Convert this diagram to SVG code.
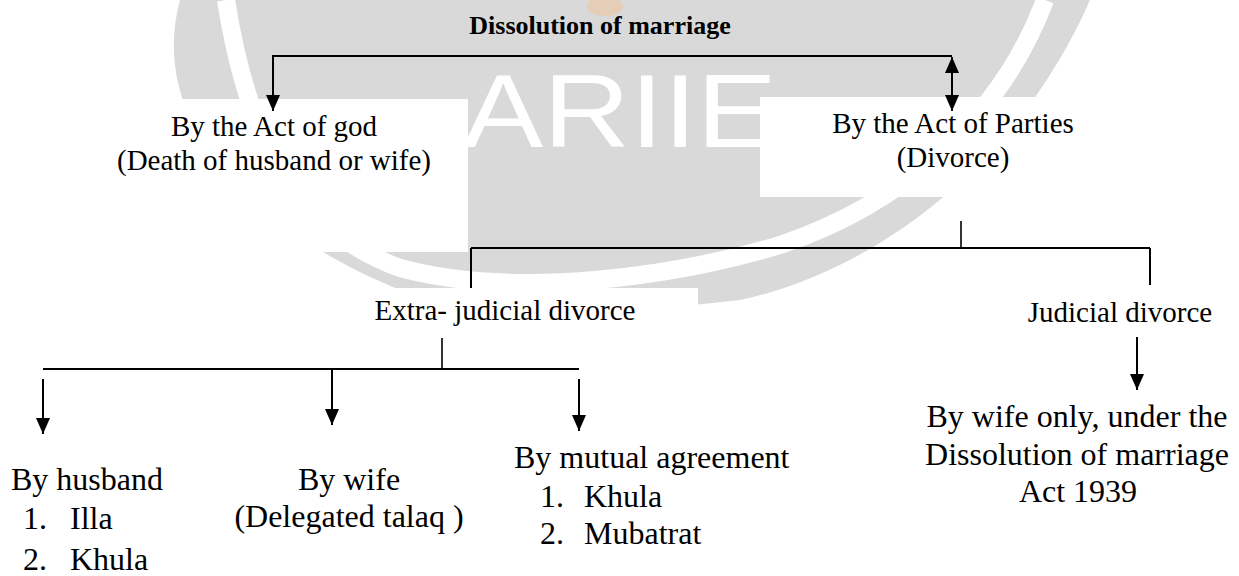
<svg xmlns="http://www.w3.org/2000/svg" width="1239" height="576" viewBox="0 0 1239 576">
<style>
.t{font-family:"Liberation Serif","Times New Roman",serif;fill:#000}
.s29{font-size:29px}
.s32{font-size:32px}
.title{font-size:26px;font-weight:bold}
.m{text-anchor:middle}
.ln{stroke:#000;stroke-width:2;fill:none}
.thin{stroke:#000;stroke-width:1.6;fill:none}
.box{fill:#fff}
</style>
<defs>
<marker id="ah" viewBox="0 0 10 10" refX="10" refY="5" markerWidth="16" markerHeight="14" markerUnits="userSpaceOnUse" orient="auto-start-reverse" preserveAspectRatio="none"><path d="M0,0 L10,5 L0,10 z" fill="#000"/></marker>
</defs>
<rect width="1239" height="576" fill="#fff"/>
<g id="watermark">
<path d="M180,0 C150,110 230,220 400,290 C500,318 640,312 740,300 C880,270 1020,160 1090,0 Z" fill="#d9d9d9"/>
<path d="M226,0 C248,140 295,230 400,268 C520,300 680,275 780,245 C900,205 1000,120 1045,0" fill="none" stroke="#fff" stroke-width="18"/>
<ellipse cx="605" cy="6" rx="18" ry="10" fill="#e8c9a8" opacity="0.7"/>
<text x="463" y="147" font-family="Liberation Sans, Arial, sans-serif" font-size="104" fill="#fff" textLength="314" lengthAdjust="spacingAndGlyphs">ARIIE</text>
</g>
<g id="boxes">
<rect class="box" x="100" y="99" width="368" height="153"/>
<rect class="box" x="760" y="97" width="340" height="100"/>
<rect class="box" x="330" y="288" width="368" height="60"/>
</g>
<g id="connectors">
<path class="ln" d="M952,56 H273 V111" marker-end="url(#ah)"/>
<path class="ln" d="M952,57 V111" marker-start="url(#ah)" marker-end="url(#ah)"/>
<path class="thin" d="M961,221 V248"/>
<path class="ln" d="M471,248 H1150"/>
<path class="ln" d="M471,248 V288"/>
<path class="ln" d="M1150,248 V285"/>
<path class="thin" d="M442,338 V369"/>
<path class="ln" d="M43,369 H579"/>
<path class="ln" d="M43,379 V434" marker-end="url(#ah)"/>
<path class="ln" d="M332,369 V425" marker-end="url(#ah)"/>
<path class="ln" d="M579,379 V431" marker-end="url(#ah)"/>
<path class="ln" d="M1137,337 V390" marker-end="url(#ah)"/>
</g>
<g id="n-root"><text class="t title m" x="600" y="34">Dissolution of marriage</text></g>
<g id="n-god"><text class="t s29 m" x="274" y="136">By the Act of god</text><text class="t s29 m" x="274" y="170">(Death of husband or wife)</text></g>
<g id="n-parties"><text class="t s29 m" x="953" y="133">By the Act of Parties</text><text class="t s29 m" x="953" y="167">(Divorce)</text></g>
<g id="n-extra"><text class="t s29 m" x="505" y="320">Extra- judicial divorce</text></g>
<g id="n-judicial"><text class="t s29 m" x="1120" y="322">Judicial divorce</text></g>
<g id="n-wifeonly"><text class="t s32 m" x="1077" y="427">By wife only, under the</text><text class="t s32 m" x="1077" y="465">Dissolution of marriage</text><text class="t s32 m" x="1078" y="502">Act 1939</text></g>
<g id="n-husband"><text class="t s32" x="11" y="490">By husband</text><text class="t s32" x="23" y="529">1.</text><text class="t s32" x="70" y="529">Illa</text><text class="t s32" x="23" y="570">2.</text><text class="t s32" x="70" y="570">Khula</text></g>
<g id="n-wife"><text class="t s32 m" x="349" y="490">By wife</text><text class="t s32 m" x="349" y="527">(Delegated talaq )</text></g>
<g id="n-mutual"><text class="t s32" x="514" y="468">By mutual agreement</text><text class="t s32" x="540" y="507">1.</text><text class="t s32" x="584" y="507">Khula</text><text class="t s32" x="540" y="544">2.</text><text class="t s32" x="584" y="544">Mubatrat</text></g>
</svg>
